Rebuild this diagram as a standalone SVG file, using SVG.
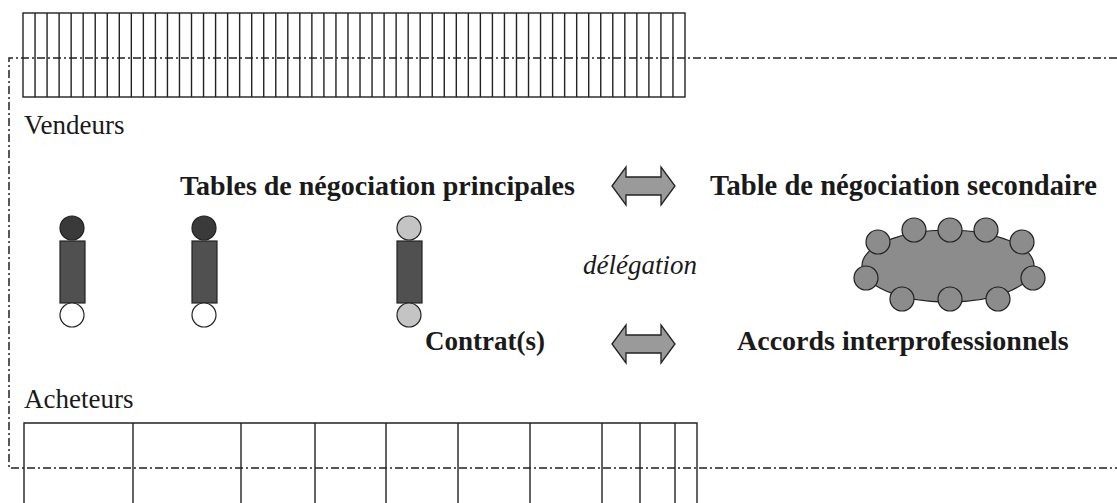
<svg xmlns="http://www.w3.org/2000/svg" width="1117" height="503" viewBox="0 0 1117 503">
<style>
.grid{fill:none;stroke:#222;stroke-width:1.4}
.dd{fill:none;stroke:#222;stroke-width:1.5;stroke-dasharray:8 3 2 3}
.lbl{font-family:"Liberation Serif","Times New Roman",serif;fill:#1a1a1a}
.b{font-weight:bold;font-size:28px}
.r{font-size:27px}
.i{font-style:italic;font-size:27px}
.body{fill:#505050;stroke:#222;stroke-width:1.2}
.dark{fill:#3a3a3a;stroke:#222;stroke-width:1.2}
.light{fill:#c4c4c4;stroke:#222;stroke-width:1.2}
.white{fill:#fff;stroke:#222;stroke-width:1.2}
.seat{fill:#8c8c8c;stroke:#222;stroke-width:1.2}
.arrow{fill:#9a9a9a;stroke:#222;stroke-width:1.3;stroke-linejoin:miter}
</style>
<rect width="1117" height="503" fill="#fff"/>
<g id="vendeurs-grid">
<rect class="grid" x="23" y="13" width="662" height="84"/>
<path class="grid" d="M35.04,13V97M47.07,13V97M59.11,13V97M71.15,13V97M83.18,13V97M95.22,13V97M107.25,13V97M119.29,13V97M131.33,13V97M143.36,13V97M155.4,13V97M167.44,13V97M179.47,13V97M191.51,13V97M203.55,13V97M215.58,13V97M227.62,13V97M239.65,13V97M251.69,13V97M263.73,13V97M275.76,13V97M287.8,13V97M299.84,13V97M311.87,13V97M323.91,13V97M335.95,13V97M347.98,13V97M360.02,13V97M372.05,13V97M384.09,13V97M396.13,13V97M408.16,13V97M420.2,13V97M432.24,13V97M444.27,13V97M456.31,13V97M468.35,13V97M480.38,13V97M492.42,13V97M504.45,13V97M516.49,13V97M528.53,13V97M540.56,13V97M552.6,13V97M564.64,13V97M576.67,13V97M588.71,13V97M600.75,13V97M612.78,13V97M624.82,13V97M636.85,13V97M648.89,13V97M660.93,13V97M672.96,13V97"/>
</g>
<g id="acheteurs-grid">
<path class="grid" d="M24,503V423H697V503M133,423V503M241,423V503M315,423V503M386,423V503M458,423V503M530,423V503M602,423V503M640,423V503M675,423V503"/>
</g>
<g id="boundary">
<path class="dd" d="M1117,58H9V468H1117"/>
</g>
<g id="label-vendeurs"><text class="lbl r" x="24" y="134">Vendeurs</text></g>
<g id="label-acheteurs"><text class="lbl r" x="24" y="408">Acheteurs</text></g>
<g id="person-1">
<circle class="dark" cx="72" cy="228" r="12"/>
<rect class="body" x="60" y="241" width="25" height="62"/>
<circle class="white" cx="72" cy="315" r="12"/>
</g>
<g id="person-2">
<circle class="dark" cx="204" cy="228" r="12"/>
<rect class="body" x="192" y="241" width="25" height="62"/>
<circle class="white" cx="204" cy="315" r="12"/>
</g>
<g id="person-3">
<circle class="light" cx="409" cy="228" r="12"/>
<rect class="body" x="397" y="241" width="25" height="62"/>
<circle class="light" cx="409" cy="315" r="12"/>
</g>
<g id="table-secondaire">
<ellipse class="seat" cx="948" cy="266" rx="86" ry="36"/>
<circle class="seat" cx="914" cy="230" r="12"/>
<circle class="seat" cx="950" cy="230" r="12"/>
<circle class="seat" cx="986" cy="230" r="12"/>
<circle class="seat" cx="878" cy="242" r="12"/>
<circle class="seat" cx="1022" cy="242" r="12"/>
<circle class="seat" cx="866" cy="278" r="12"/>
<circle class="seat" cx="1033" cy="278" r="12"/>
<circle class="seat" cx="902" cy="299" r="12"/>
<circle class="seat" cx="950" cy="299" r="12"/>
<circle class="seat" cx="998" cy="299" r="12"/>
</g>
<g id="label-tables-principales"><text class="lbl b" x="180" y="195">Tables de négociation principales</text></g>
<g id="label-table-secondaire"><text class="lbl b" x="710" y="195" style="font-size:28.6px">Table de négociation secondaire</text></g>
<g id="label-delegation"><text class="lbl i" x="583" y="274">délégation</text></g>
<g id="label-contrats"><text class="lbl b" x="425" y="350" style="font-size:27px">Contrat(s)</text></g>
<g id="label-accords"><text class="lbl b" x="737" y="350">Accords interprofessionnels</text></g>
<g id="connectors">
<path class="arrow" d="M612,186L626,167V177H661V167L675,186L661,205V195H626V205Z"/>
<path class="arrow" d="M612,344L626,325V335H661V325L675,344L661,363V353H626V363Z"/>
</g>
</svg>
